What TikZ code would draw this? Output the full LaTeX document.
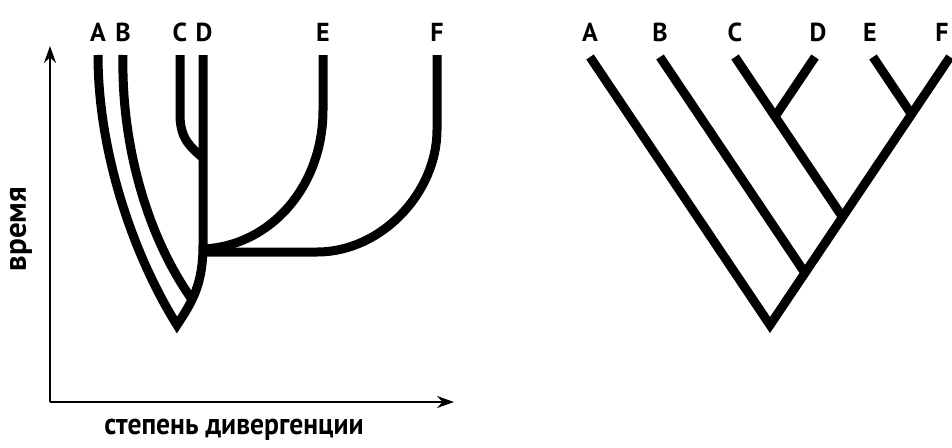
\documentclass[tikz,border=0pt]{standalone}
\usepackage{fontspec}
\setmainfont{PT Sans}
\newfontfamily\narrowfont[FakeStretch=0.92]{PT Sans}
\usetikzlibrary{
    arrows.meta                       % Stealth tips on the axes
}
\tikzset{
    branch/.style={
        line width=9pt, line cap=butt, line join=miter
    },
    axis/.style={
        -{Stealth[length=17pt, width=12pt]}, line width=2pt
    },
    taxon/.style={
        font=\fontsize{26}{26}\selectfont\bfseries, inner sep=0pt
    },
    axislabel/.style={
        font=\narrowfont\fontsize{30}{30}\selectfont\bfseries, inner sep=0pt
    }
}

\begin{document}
\begin{tikzpicture}[x=1pt, y=-1pt]
    \useasboundingbox (0,0) rectangle (952,447);

    % --- Left panel: axes ---
    \coordinate (origin) at (50,402);
    \coordinate (ytip) at (50,46);
    \coordinate (xtip) at (454,402);
    \draw[axis] (origin) -- (ytip);
    \draw[axis] (origin) -- (xtip);
    \node[axislabel, font=\fontsize{31}{31}\selectfont\bfseries, rotate=90] (time) at (21,229) {время};
    \node[axislabel] (div) at (234,430) {степень дивергенции};

    % --- Left panel: taxa ---
    \foreach \name/\x in {A/98, B/123, C/180, D/204, E/323, F/437}
        \node[taxon] (l\name) at (\x,32) {\name};
    \foreach \name/\x in {A/98, B/123, C/180, D/203, E/323, F/437}
        \coordinate (lt\name) at (\x,55);
    \coordinate (lroot) at (177,325);

    % A down to the root, then back up into the D trunk
    \draw[branch] (ltA) .. controls (98,155) and (135,258) .. (lroot)
        .. controls (192,302) and (203,285) .. (203,245) -- (ltD);
    \draw[branch] (ltB) .. controls (121,150) and (150,240) .. (191,298);
    \draw[branch] (ltC) -- (180,115) .. controls (180,140) and (192,148) .. (203,158);
    \draw[branch] (ltE) -- (323,110) .. controls (323,186) and (271,246) .. (203,249);
    \draw[branch] (ltF) -- (437,130) .. controls (437,192) and (382,252) .. (317,252) -- (203,252);

    % --- Right panel: cladogram ---
    \foreach \name/\x in {A/590, B/660, C/735, D/818, E/870, F/942}
        \node[taxon] (r\name) at (\x,32) {\name};
    \foreach \name/\x in {A/590, B/660, C/735, D/815, E/873, F/950}
        \coordinate (rt\name) at (\x,57);
    \coordinate (rroot) at (770,325);
    \coordinate (rjB) at (805,273);
    \coordinate (rjC) at (842.5,217);
    \coordinate (rjD) at (775,116.6);
    \coordinate (rjE) at (911.5,114.4);

    \draw[branch] (rtA) -- (rroot) -- (rtF);
    \draw[branch] (rtB) -- (rjB);
    \draw[branch] (rtC) -- (rjC);
    \draw[branch] (rtD) -- (rjD);
    \draw[branch] (rtE) -- (rjE);
\end{tikzpicture}
\end{document}
